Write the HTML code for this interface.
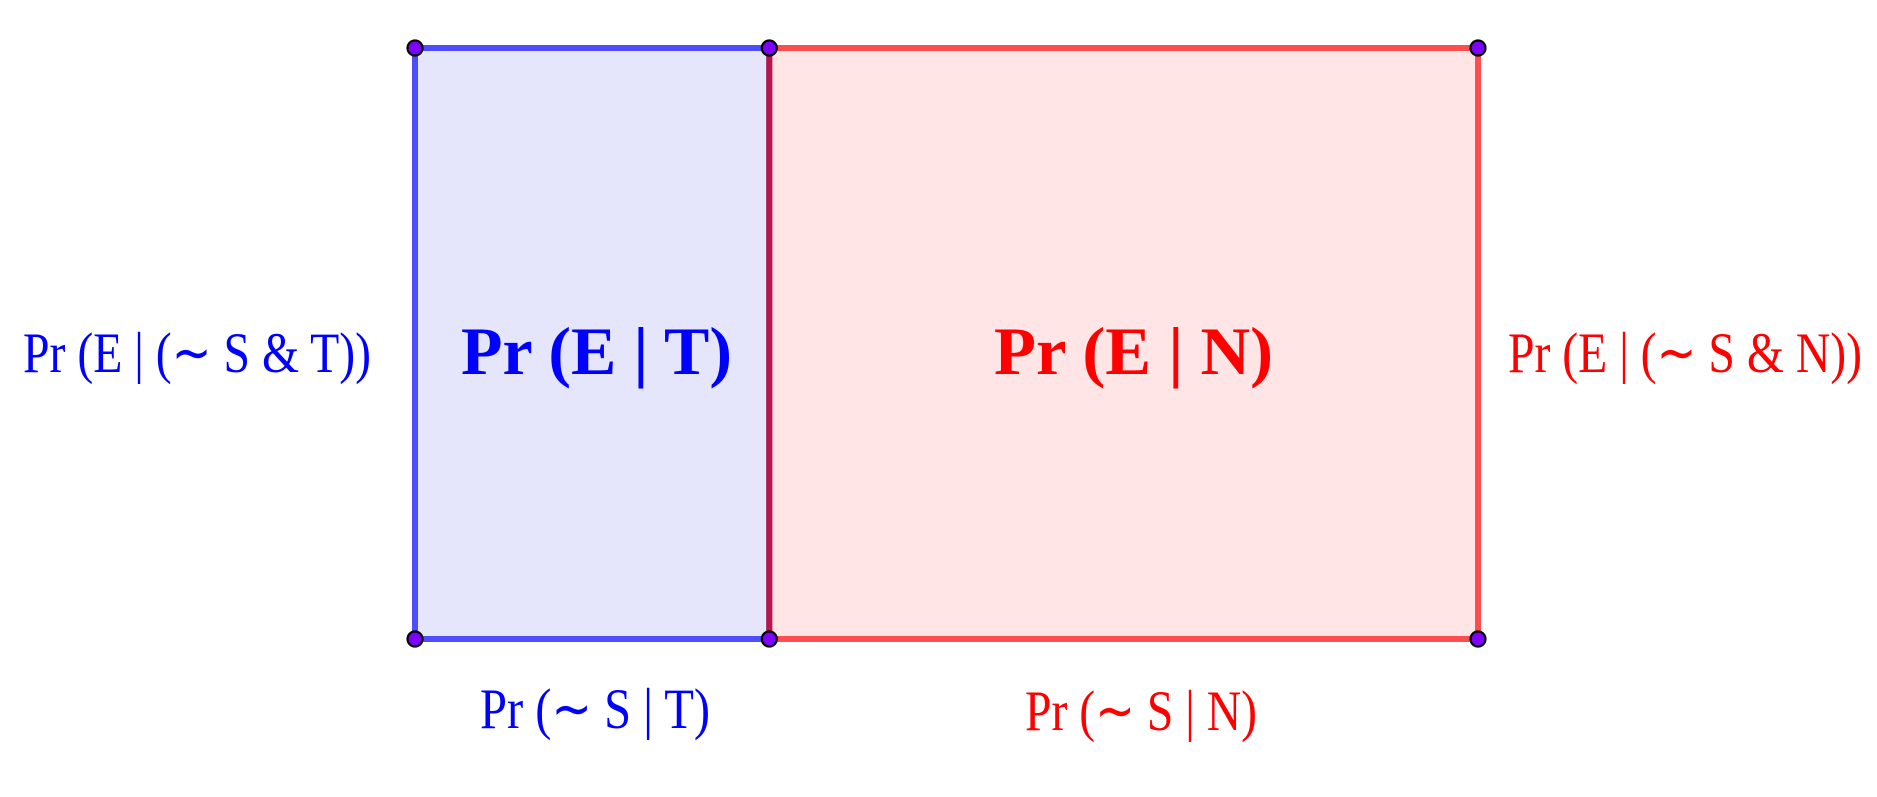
<!DOCTYPE html>
<html><head><meta charset="utf-8"><style>
html,body{margin:0;padding:0;background:#fff;width:1877px;height:797px;overflow:hidden}
svg{display:block}
text{font-family:"Liberation Serif",serif}
</style></head><body>
<svg id="c" width="1877" height="797">
<g id="rects"></g>
<g id="labels">
<text x="23" y="372" font-size="57" fill="#0000ff" textLength="348" lengthAdjust="spacingAndGlyphs">Pr (E | (∼ S &amp; T))</text>
<text x="461" y="374" font-size="68" font-weight="bold" fill="#0000ff" textLength="271" lengthAdjust="spacingAndGlyphs">Pr (E | T)</text>
<text x="994" y="374" font-size="68" font-weight="bold" fill="#ff0000" textLength="279" lengthAdjust="spacingAndGlyphs">Pr (E | N)</text>
<text x="1508" y="372" font-size="57" fill="#ff0000" textLength="354" lengthAdjust="spacingAndGlyphs">Pr (E | (∼ S &amp; N))</text>
<text x="480" y="728" font-size="57" fill="#0000ff" textLength="230" lengthAdjust="spacingAndGlyphs">Pr (∼ S | T)</text>
<text x="1025" y="730" font-size="57" fill="#ff0000" textLength="232" lengthAdjust="spacingAndGlyphs">Pr (∼ S | N)</text>
</g>
<g id="pts"></g>
</svg>
<script>
const categories = ['T','N'];
const widths = [0.3333, 0.6667];
const heights = [1, 1];
const x0=415, x1=1478, yTop=48, yBot=639;
const NS='http://www.w3.org/2000/svg';
const total = widths.reduce((a,b)=>a+b,0);
const xs = v => x0 + (x1-x0)*v/total;
const ys = v => yBot - (yBot-yTop)*v;
const fills=['#e5e5fc','#ffe5e5'], strokes=['#4d4dff','#ff4d4d'];
const rg=document.getElementById('rects'), pg=document.getElementById('pts');
let acc=0; const corners=[];
categories.forEach((c,i)=>{
  const a=xs(acc), b=xs(acc+widths[i]), t=ys(heights[i]);
  const r=document.createElementNS(NS,'rect');
  
  
  r.setAttribute('x',a);r.setAttribute('y',t);r.setAttribute('width',b-a);r.setAttribute('height',yBot-t);
  r.setAttribute('fill',fills[i]);r.setAttribute('stroke',strokes[i]);r.setAttribute('stroke-width',6);
  rg.appendChild(r);
  corners.push([a,t],[a,yBot],[b,t],[b,yBot]);
  acc+=widths[i];
});
const mx=xs(widths[0]);
const l=document.createElementNS(NS,'line');


l.setAttribute('x1',mx);l.setAttribute('x2',mx);l.setAttribute('y1',ys(heights[0]));l.setAttribute('y2',yBot);
l.setAttribute('stroke','#b0184f');l.setAttribute('stroke-width',6);
rg.appendChild(l);
const seen={};
corners.forEach(p=>{
  const k=Math.round(p[0])+','+Math.round(p[1]); if(seen[k])return; seen[k]=1;
  const ci=document.createElementNS(NS,'circle');
  
  
  ci.setAttribute('cx',p[0]);ci.setAttribute('cy',p[1]);ci.setAttribute('r',7.5);
  ci.setAttribute('fill','#7f00ff');ci.setAttribute('stroke','#000');ci.setAttribute('stroke-width',2.2);
  pg.appendChild(ci);
});
</script>
</body></html>
